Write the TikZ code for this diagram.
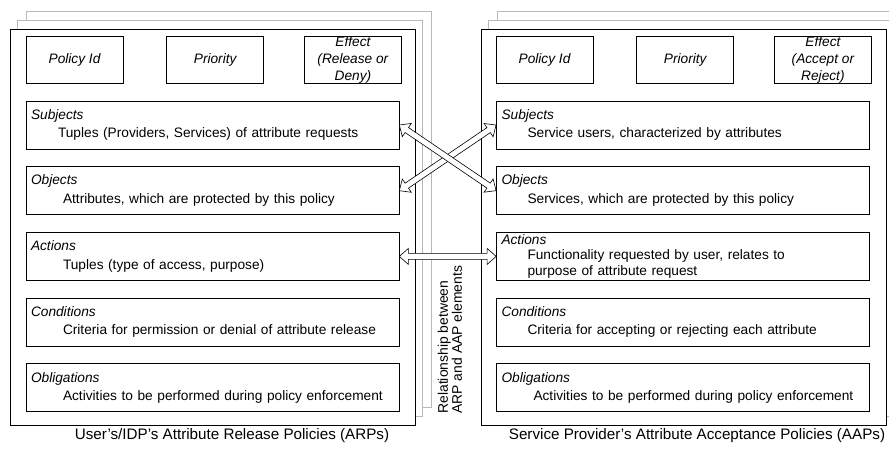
\documentclass[tikz,border=0pt]{standalone}
\usepackage{fontspec}
\setmainfont{Liberation Sans}
\usetikzlibrary{positioning,calc}

% hollow double-headed block arrow between two anchors
\newcommand{\relarrow}[2]{%
  \draw[relarrow] let \p1=(#1), \p2=(#2),
    \n1={atan2(\y2-\y1,\x2-\x1)}, \n2={veclen(\x2-\x1,\y2-\y1)} in
    [shift={(\p1)},rotate=\n1]
    (0pt,0pt) -- (9pt,8pt) -- (9pt,3pt) -- ({\n2-9pt},3pt) -- ({\n2-9pt},8pt)
    -- (\n2,0pt) -- ({\n2-9pt},-8pt) -- ({\n2-9pt},-3pt) -- (9pt,-3pt)
    -- (9pt,-8pt) -- cycle;}

\begin{document}
\begin{tikzpicture}[x=1pt,y=-1pt,node distance=17pt,
  page/.style={draw=gray!55,fill=white,line width=0.8pt,minimum width=405pt,minimum height=396pt,inner sep=0pt},
  frame/.style={draw=black,fill=white,line width=0.8pt,minimum width=405pt,minimum height=396pt,inner sep=0pt},
  hdr/.style={draw,line width=0.7pt,minimum width=97pt,minimum height=47pt,inner sep=0pt,align=center,font=\fontsize{13.7}{17}\selectfont\itshape},
  row/.style={draw,line width=0.7pt,minimum width=373pt,minimum height=48pt,text width=363pt,inner xsep=5pt,inner ysep=0pt,align=left,font=\fontsize{13.7}{15.5}\selectfont},
  caption/.style={font=\fontsize{15.2}{18}\selectfont},
  midtext/.style={align=left,rotate=90,anchor=west,font=\fontsize{13.9}{14}\selectfont},
  relarrow/.style={draw,fill=white,line width=0.6pt}]
  \useasboundingbox (0,0) rectangle (889,453);

  % stacked policy sheets
  \node[page] (lpage3) at (228.5,209) {};
  \node[page] (lpage2) at (219.5,218) {};
  \node[frame] (lframe) at (212.5,227) {};
  \node[page] (rpage3) at (699.5,209) {};
  \node[page] (rpage2) at (690.5,218) {};
  \node[frame] (rframe) at (683.5,227) {};

  % ARP side
  \node[hdr] (lid) at (74.5,59.5) {Policy Id};
  \node[hdr] (lprio) [right=43pt of lid] {Priority};
  \node[hdr] (leff) [right=40pt of lprio] {Effect\\(Release or\\Deny)};
  \node[row] (lsub) at (212.5,125) {\textit{Subjects}\\[3pt]\hspace*{27pt}Tuples (Providers, Services) of attribute requests};
  \node[row] (lobj) [below=of lsub] {\textit{Objects}\\[3pt]\hspace*{32pt}Attributes, which are protected by this policy};
  \node[row] (lact) [below=of lobj] {\textit{Actions}\\[3pt]\hspace*{32pt}Tuples (type of access, purpose)};
  \node[row] (lcond) [below=of lact] {\textit{Conditions}\\[3pt]\hspace*{32pt}Criteria for permission or denial of attribute release};
  \node[row] (lobl) [below=of lcond] {\textit{Obligations}\\[3pt]\hspace*{32pt}Activities to be performed during policy enforcement};
  \node[caption] (lcap) at (232,436) {User's/IDP's Attribute Release Policies (ARPs)};

  % AAP side
  \node[hdr] (rid) at (544.5,59.5) {Policy Id};
  \node[hdr] (rprio) [right=43pt of rid] {Priority};
  \node[hdr] (reff) [right=40pt of rprio] {Effect\\(Accept or\\Reject)};
  \node[row] (rsub) at (683,125) {\textit{Subjects}\\[3pt]\hspace*{26pt}Service users, characterized by attributes};
  \node[row] (robj) [below=of rsub] {\textit{Objects}\\[3pt]\hspace*{26pt}Services, which are protected by this policy};
  \node[row] (ract) [below=of robj] {\textit{Actions}\\\hspace*{26pt}Functionality requested by user, relates to\\\hspace*{26pt}purpose of attribute request};
  \node[row] (rcond) [below=of ract] {\textit{Conditions}\\[3pt]\hspace*{26pt}Criteria for accepting or rejecting each attribute};
  \node[row] (robl) [below=of rcond] {\textit{Obligations}\\[3pt]\hspace*{32pt}Activities to be performed during policy enforcement};
  \node[caption] (rcap) at (697,436) {Service Provider's Attribute Acceptance Policies (AAPs)};

  % relationships
  \node[midtext] (rel) at (450,417) {Relationship between\\ARP and AAP elements};
  \relarrow{lobj.east}{rsub.west}
  \relarrow{lsub.east}{robj.west}
  \relarrow{lact.east}{ract.west}
\end{tikzpicture}
\end{document}
